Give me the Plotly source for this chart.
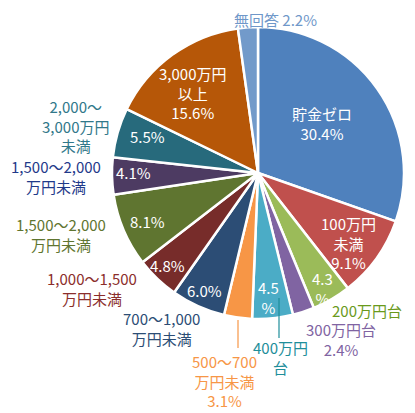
import plotly.graph_objects as go

W, H = 415, 413
OFF = 8  # page body margin around the plot div

# slices, clockwise from 12 o'clock
names = ["貯金ゼロ", "100万円未満", "200万円台", "300万円台", "400万円台",
         "500～700万円未満", "700～1,000万円未満", "1,000～1,500万円未満",
         "1,500～2,000万円未満", "1,500～2,000万円未満 ", "2,000～3,000万円未満",
         "3,000万円以上", "無回答"]
values = [30.4, 9.1, 4.3, 2.4, 4.5, 3.1, 6.0, 4.8, 8.1, 4.1, 5.5, 15.6, 2.2]
colors = ["#4F81BD", "#C0504D", "#9BBB59", "#8064A2", "#4BACC6", "#F79646",
          "#2C4D75", "#772C2A", "#5F7530", "#4D3B62", "#276A7C", "#B65708", "#729ACA"]

# label text pieces (inside -> white, outside -> coloured)
inside_text = ["貯金ゼロ<br>{}%", "100万円<br>未満<br>{}%", "{}<br>%", None, "{}<br>%",
               None, "{}%", "{}%", "{}%", "{}%", "{}%", "3,000万円<br>以上<br>{}%", None]
outside_text = [None, None, "200万円台", "300万円台<br>{}%", "400万円<br>台",
                "500～700<br>万円未満<br>{}%", "700～1,000<br>万円未満", "1,000～1,500<br>万円未満",
                "1,500～2,000<br>万円未満", "1,500～2,000<br>万円未満", "2,000～<br>3,000万円<br>未満",
                None, "無回答 {}%"]
outside_colors = [None, None, "#6A9A1C", "#8064A2", "#1E8E9A", "#F79646", "#2C4D75",
                  "#8B2E2B", "#5F7530", "#1F3A8A", "#31788A", None, "#6F97C9"]

# label centres in pixels
inside_pos = [(322, 123), (348, 243), (322, 288), None, (268, 297), None, (204, 290),
              (167, 265), (147, 221), (133, 173), (147, 137), (192, 93), None]
outside_pos = [None, None, (367, 310), (341, 339), (280, 357), (224, 381), (161, 328),
               (92, 288), (61, 235), (56, 176), (75, 126), None, (275, 19)]

FONT = "Noto Sans CJK JP"


def px(x, y):
    return (x - OFF) / W, 1 - (y - OFF) / H


fig = go.Figure(go.Pie(
    labels=names, values=values, sort=False, direction="clockwise", rotation=0,
    marker=dict(colors=colors, line=dict(color="white", width=2.5)),
    textinfo="none", hoverinfo="label+percent", showlegend=False,
    domain=dict(x=[(112 - OFF) / W, (404 - OFF) / W], y=[1 - (319 - OFF) / H, 1 - (27 - OFF) / H]),
))

annotations = []
for i, v in enumerate(values):
    if inside_text[i]:
        x, y = px(*inside_pos[i])
        annotations.append(dict(x=x, y=y, xref="paper", yref="paper", showarrow=False,
                                xanchor="center", yanchor="middle", borderpad=0,
                                text=inside_text[i].format(v),
                                font=dict(family=FONT, size=15, color="white")))
    if outside_text[i]:
        x, y = px(*outside_pos[i])
        annotations.append(dict(x=x, y=y, xref="paper", yref="paper", showarrow=False,
                                xanchor="center", yanchor="middle", borderpad=0,
                                text=outside_text[i].format(v),
                                font=dict(family=FONT, size=15, color=outside_colors[i])))

# leader lines for the narrow slices
leaders = [((279, 298, 279, 338), "#1E8E9A"), ((238, 320, 238, 348), "#F79646")]
shapes = []
for (x0, y0, x1, y1), c in leaders:
    a, b = px(x0, y0)
    d, e = px(x1, y1)
    shapes.append(dict(type="line", xref="paper", yref="paper", x0=a, y0=b, x1=d, y1=e,
                       line=dict(color=c, width=1.2)))

fig.update_layout(width=W, height=H, margin=dict(l=0, r=0, t=0, b=0),
                  paper_bgcolor="white", plot_bgcolor="white",
                  annotations=annotations, shapes=shapes)
fig.write_html("out.html")
